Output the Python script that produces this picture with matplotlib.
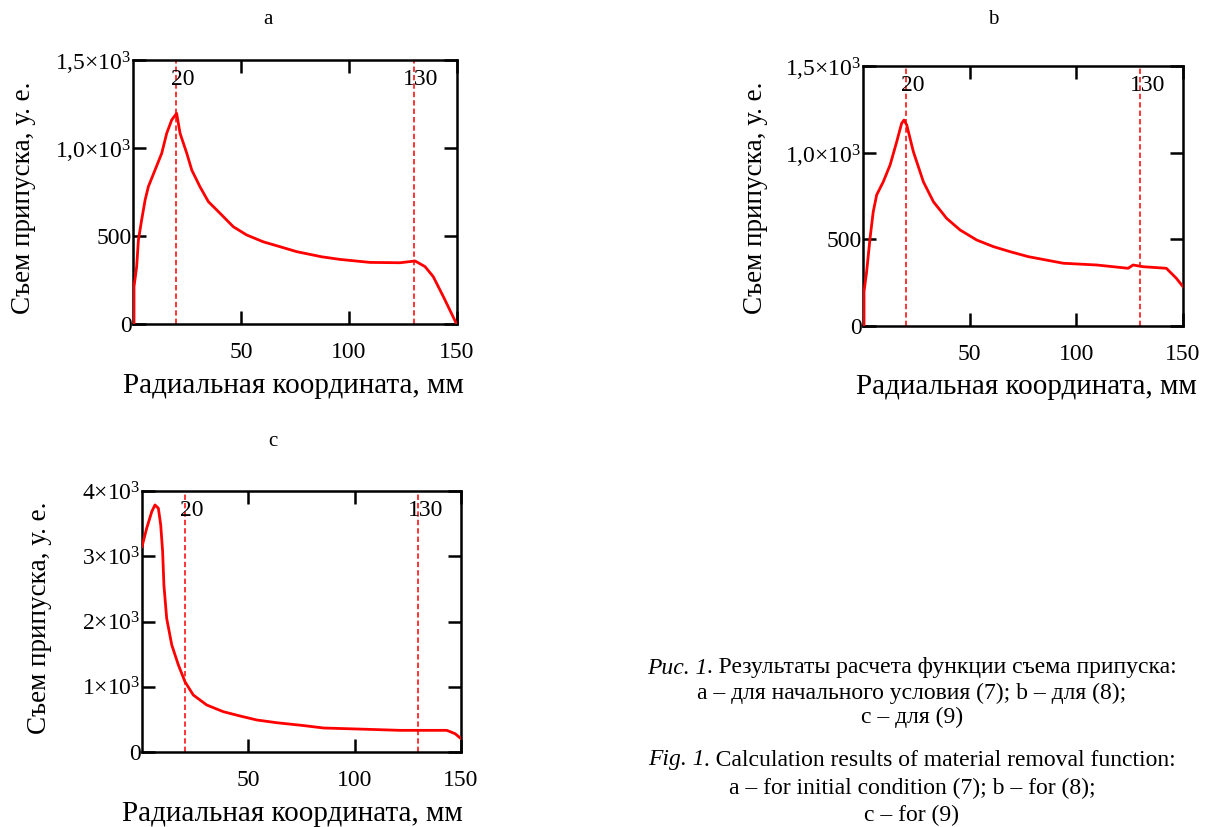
import matplotlib
matplotlib.use("Agg")
import matplotlib.pyplot as plt
import matplotlib.transforms as mtrans

plt.rcParams['font.family'] = ['Liberation Serif', 'DejaVu Serif']
plt.rcParams['mathtext.fontset'] = 'custom'
plt.rcParams['mathtext.rm'] = 'Liberation Serif'
plt.rcParams['mathtext.it'] = 'Liberation Serif:italic'

# panel a - initial condition (7)
xa = [0, 0.46, 0.46, 1.7, 2.5, 4.0, 5.6, 7.1, 10.2, 13.3, 15.6, 17.9, 20.2, 21.8, 24.9,
      27.2, 31, 34.9, 40.3, 46.4, 52.6, 60.3, 68.1, 75.8, 87.3, 95.8, 109.7, 123.6,
      130.6, 135.2, 139, 143.7, 149.5, 150]
ya = [0, 4, 212, 326, 477, 591, 704, 780, 875, 970, 1083, 1159, 1197, 1083, 970,
      875, 780, 695, 629, 553, 506, 467, 439, 411, 382, 367, 350, 348,
      358, 326, 269, 155, 8, 0]

# panel b - (8)
xb = [0, 0.47, 0.47, 1.7, 3.3, 4.8, 6.4, 9.5, 12.7, 15.8, 18.1, 19.2, 20.5, 23.6, 28.3,
      33, 39.2, 45.5, 53.3, 61.1, 68.9, 77.5, 93.9, 109.5, 124.3, 126.6, 131.3, 142.2,
      146.9, 150]
yb = [0, 6, 198, 313, 506, 659, 756, 832, 929, 1063, 1169, 1188, 1160, 1006, 832,
      717, 621, 554, 496, 458, 429, 400, 362, 352, 333, 352, 342, 333,
      275, 227]

# panel c - (9)
xc = [0, 2.2, 4.6, 6.1, 7.7, 8.8, 9.7, 10.3, 11.6, 14, 17.1, 20.2, 24.1, 30.4, 38.2,
      46.1, 53.9, 63.3, 76, 85.3, 105.7, 121.3, 143.3, 147.2, 150]
yc = [3147, 3429, 3684, 3786, 3735, 3480, 3071, 2560, 2049, 1640, 1334, 1078, 874, 721, 618,
      552, 491, 449, 405, 368, 348, 332, 332, 281, 205]

marks = [20, 130]
xticks = [50, 100, 150]
yticks_ab = [0, 500, 1000, 1500]
ylabels_ab = ['0', '500', r'$1{,}0{\times}10^3$', r'$1{,}5{\times}10^3$']
yticks_c = [0, 1000, 2000, 3000, 4000]
ylabels_c = ['0', r'$1{\times}10^3$', r'$2{\times}10^3$', r'$3{\times}10^3$', r'$4{\times}10^3$']

xlab = 'Радиальная координата, мм'
ylab = 'Съем припуска, у. е.'

W, H = 1214, 827
fig = plt.figure(figsize=(W / 100, H / 100), dpi=100)


def panel(box, x, y, ymax, yt, yl, letter, title_xy, xlab_xy, ylab_xy):
    l, t, r, b = box
    ax = fig.add_axes([l / W, 1 - b / H, (r - l) / W, (b - t) / H])
    ax.plot(x, y, color='#ff0000', lw=2.0, zorder=3)
    tr = mtrans.blended_transform_factory(ax.transData, ax.transAxes)
    shift = mtrans.ScaledTranslation(7 / 100, 0, fig.dpi_scale_trans)
    for m in marks:
        ax.axvline(m, color='#ff0000', lw=1.1, ls=(0, (3.5, 2)), zorder=2)
        ax.text(m, 0.925, str(m), transform=tr + shift, ha='center', va='center',
                fontsize=17, zorder=4)
    ax.set_xlim(0, 150)
    ax.set_ylim(0, ymax)
    ax.set_xticks(xticks)
    ax.set_xticklabels([str(v) for v in xticks], fontsize=17)
    ax.set_yticks(yt)
    ax.set_yticklabels(yl, fontsize=17)
    ax.tick_params(direction='in', length=9.5, width=1.8, top=True, right=True)
    ax.tick_params(axis='x', pad=13)
    ax.tick_params(axis='y', pad=1)
    for s in ax.spines.values():
        s.set_linewidth(1.8)
    fig.text(title_xy[0] / W, 1 - title_xy[1] / H, letter, ha='center', va='center', fontsize=15)
    fig.text(xlab_xy[0] / W, 1 - xlab_xy[1] / H, xlab, ha='center', va='center', fontsize=21)
    fig.text(ylab_xy[0] / W, 1 - ylab_xy[1] / H, ylab, ha='center', va='center', fontsize=19.5,
             rotation=90)
    return ax


panel((133, 60, 457, 324), xa, ya, 1500, yticks_ab, ylabels_ab, 'a', (268, 20), (293, 386), (24, 198))
panel((863, 66, 1183, 326), xb, yb, 1500, yticks_ab, ylabels_ab, 'b', (993, 20), (1026, 387), (756, 198))
panel((142, 491, 461, 752), xc, yc, 4000, yticks_c, ylabels_c, 'c', (273, 441), (292, 814), (40, 618))

# caption: italic lead + regular rest, centred as one line
cap_x = 912
caption = [
    (668, 'Рис. 1', '. Результаты расчета функции съема припуска:'),
    (693, '', 'а – для начального условия (7); b – для (8);'),
    (717, '', 'с – для (9)'),
    (760, 'Fig. 1', '. Calculation results of material removal function:'),
    (788, '', 'a – for initial condition (7); b – for (8);'),
    (815, '', 'c – for (9)'),
]
fig.canvas.draw()
renderer = fig.canvas.get_renderer()
for yy, it, rest in caption:
    t1 = fig.text(0, 1 - yy / H, it, ha='left', va='center', fontsize=17, style='italic')
    t2 = fig.text(0, 1 - yy / H, rest, ha='left', va='center', fontsize=17)
    w1 = t1.get_window_extent(renderer).width if it else 0
    w2 = t2.get_window_extent(renderer).width
    x0 = cap_x - (w1 + w2) / 2
    t1.set_x(x0 / W)
    t2.set_x((x0 + w1) / W)

fig.savefig('out.png', dpi=100)
